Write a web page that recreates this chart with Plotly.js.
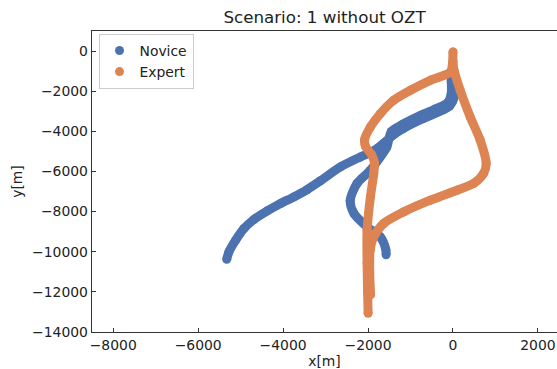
<!DOCTYPE html>
<html>
<head>
<meta charset="utf-8">
<script src="https://cdn.plot.ly/plotly-3.0.1.min.js"></script>
<style>html,body{margin:0;padding:0;overflow:hidden;background:#fff}</style>
</head>
<body>
<div id="chart" style="width:557px;height:369px"></div>
<script>
// Novice trajectory (x[m], y[m])
const noviceX = [-1575,-1580,-1710,-2020,-2330,-2420,-2260,-1950,-1720,-1560,-1450,-1200,-750,-420,-120,-40,-40,-40,
                 30,40,50,-80,-380,-710,-1160,-1410,-1630,-1850,-2179,-2649,-3119,-3431,-3746,-4059,-4372,-4686,-4921,-5117,-5274,-5328];
const noviceY = [-10150,-9900,-9260,-8760,-8100,-7450,-6600,-5950,-5300,-4800,-4010,-3670,-3195,-2890,-2560,-2100,-1500,-1100,
                 -1200,-1600,-2150,-2740,-3070,-3375,-3850,-4190,-4590,-4950,-5276,-5774,-6460,-6900,-7267,-7596,-7963,-8392,-8840,-9423,-10005,-10380];
// Expert trajectory
const expertX = [-1940,-1960,-1950,-1865,-1630,-1160,-533,94,484,720,783,642,407,172,20,0,0,
                 -10,-63,-533,-1003,-1396,-1709,-1944,-2080,-2060,-1920,-1850,-1865,-1944,-2022,-2022,-2010,-1998];
const expertY = [-12150,-11000,-9920,-9258,-8591,-8014,-7432,-6934,-6600,-6103,-5605,-4445,-3285,-1960,-900,-500,-50,
                 -600,-1045,-1458,-1956,-2454,-3116,-3783,-4400,-4750,-5150,-5550,-6103,-7267,-8925,-10583,-12000,-13071];
const seriesNames = ['Novice','Expert'];
const seriesColors = ['#4C72B0','#DD8452'];

const font = 'DejaVu Sans, sans-serif';
const traces = [
  {x: noviceX, y: noviceY, mode: 'lines+markers', showlegend: false, hoverinfo: 'skip',
   line: {color: seriesColors[0], width: 9, shape: 'spline', smoothing: 0.8},
   marker: {color: seriesColors[0], size: 9}},
  {x: expertX, y: expertY, mode: 'lines+markers', showlegend: false, hoverinfo: 'skip',
   line: {color: seriesColors[1], width: 9, shape: 'spline', smoothing: 0.8},
   marker: {color: seriesColors[1], size: 9}},
  {x: [null], y: [null], mode: 'markers', name: seriesNames[0], marker: {color: seriesColors[0], size: 9}},
  {x: [null], y: [null], mode: 'markers', name: seriesNames[1], marker: {color: seriesColors[1], size: 9}}
];

const axisCommon = {
  showgrid: false, zeroline: false, showline: true, linecolor: '#333', linewidth: 1.3,
  ticks: 'inside', ticklen: 4, tickwidth: 1, tickcolor: '#333', dtick: 2000,
  tickformat: 'd',
  tickfont: {family: font, size: 13.9, color: '#222'}
};

const layout = {
  width: 557, height: 369,
  margin: {l: 91.5, r: 0, t: 31, b: 37},
  paper_bgcolor: '#fff', plot_bgcolor: '#fff',
  title: {text: 'Scenario: 1 without OZT', font: {family: font, size: 16.7, color: '#222'},
          x: 0.5, xref: 'paper', xanchor: 'center', y: 1 - 16.7/369, yref: 'container', yanchor: 'middle'},
  xaxis: Object.assign({}, axisCommon, {range: [-8500, 2450], mirror: true, tick0: 0,
          title: {text: 'x[m]', font: {family: font, size: 13.9, color: '#222'}, standoff: 6}}),
  yaxis: Object.assign({}, axisCommon, {range: [-14000, 1000], tick0: 0,
          title: {text: 'y[m]', font: {family: font, size: 13.9, color: '#222'}, standoff: 6}}),
  legend: {x: 0.014, y: 0.99, xanchor: 'left', yanchor: 'top', bgcolor: 'rgba(255,255,255,0.8)',
           bordercolor: '#ccc', borderwidth: 1, font: {family: font, size: 13.9, color: '#222'}},
  showlegend: true
};

Plotly.newPlot('chart', traces, layout, {displayModeBar: false, staticPlot: true});
</script>
</body>
</html>
